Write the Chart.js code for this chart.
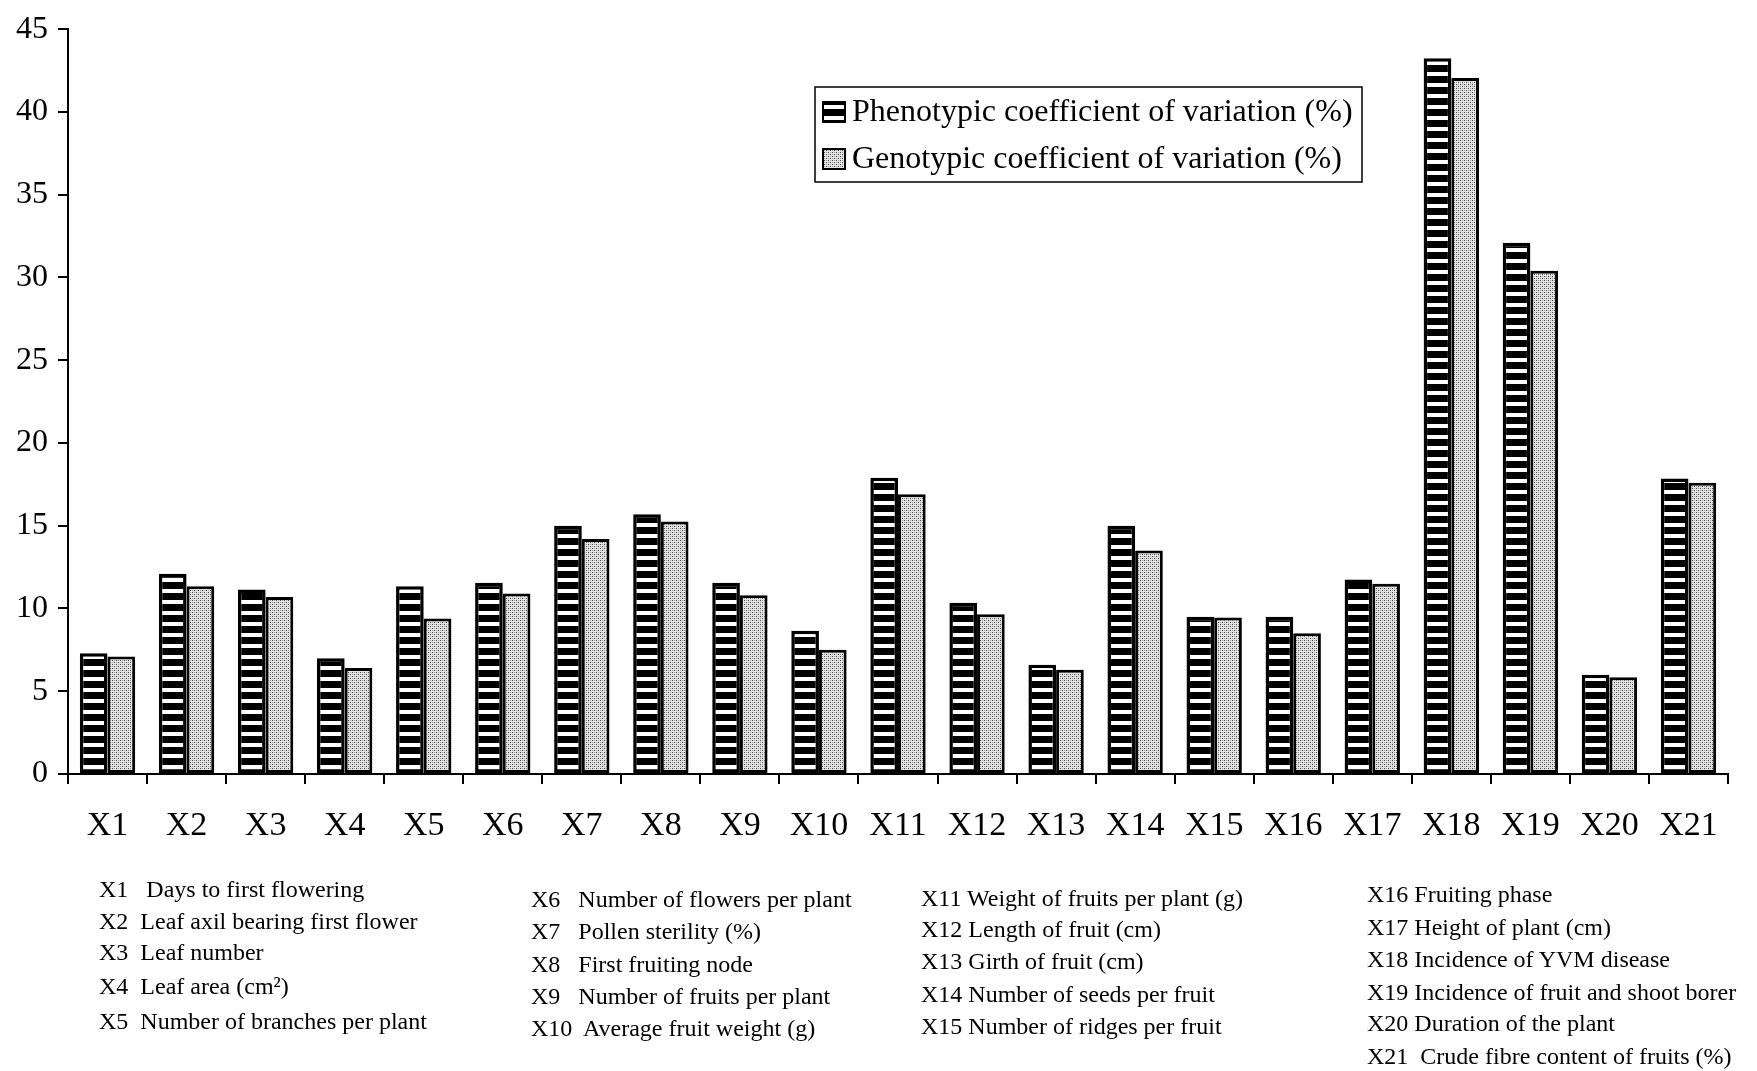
<!DOCTYPE html>
<html>
<head>
<meta charset="utf-8">
<script src="https://cdn.jsdelivr.net/npm/chart.js@4.4.1/dist/chart.umd.min.js"></script>
<style>
  html, body { margin: 0; padding: 0; background: #fff; }
  #wrap { position: relative; width: 1757px; height: 1071px; }
  #chart { position: absolute; left: 0; top: 0; }
  .note { position: absolute; font-family: "Liberation Serif", "DejaVu Serif", serif; font-size: 24px; color: #000; white-space: pre; line-height: 1; }
</style>
</head>
<body>
<div id="wrap">
  <canvas id="chart" width="1757" height="1071"></canvas>
</div>
<script>
// data
const categories = ["X1","X2","X3","X4","X5","X6","X7","X8","X9","X10","X11","X12","X13","X14","X15","X16","X17","X18","X19","X20","X21"];
const phenotypicCV = [7.3, 12.1, 11.15, 7.0, 11.35, 11.55, 15.0, 15.7, 11.55, 8.65, 17.9, 10.35, 6.6, 15.0, 9.5, 9.5, 11.75, 43.25, 32.1, 6.0, 17.85];
const genotypicCV  = [7.1, 11.35, 10.7, 6.4, 9.4, 10.9, 14.2, 15.25, 10.8, 7.5, 16.9, 9.65, 6.3, 13.5, 9.45, 8.5, 11.5, 42.05, 30.4, 5.85, 17.6];
const yTicks = [0, 5, 10, 15, 20, 25, 30, 35, 40, 45];
const seriesLabels = ["Phenotypic coefficient of variation (%)", "Genotypic coefficient of variation (%)"];

const descriptions = [
  ["X1   Days to first flowering", "X2  Leaf axil bearing first flower", "X3  Leaf number", "X4  Leaf area (cm\u00B2)", "X5  Number of branches per plant"],
  ["X6   Number of flowers per plant", "X7   Pollen sterility (%)", "X8   First fruiting node", "X9   Number of fruits per plant", "X10  Average fruit weight (g)"],
  ["X11 Weight of fruits per plant (g)", "X12 Length of fruit (cm)", "X13 Girth of fruit (cm)", "X14 Number of seeds per fruit", "X15 Number of ridges per fruit"],
  ["X16 Fruiting phase", "X17 Height of plant (cm)", "X18 Incidence of YVM disease", "X19 Incidence of fruit and shoot borer", "X20 Duration of the plant", "X21  Crude fibre content of fruits (%)"]
];

// footnote columns
const noteCols = [
  { x: 99,   ys: [877, 909, 940, 974, 1009] },
  { x: 531,  ys: [887, 919, 952, 984, 1016] },
  { x: 921,  ys: [886, 917, 949, 982, 1014] },
  { x: 1367, ys: [882, 915, 947, 980, 1011, 1044] }
];
const wrap = document.getElementById("wrap");
descriptions.forEach((col, ci) => {
  col.forEach((txt, li) => {
    const d = document.createElement("div");
    d.className = "note";
    d.style.left = noteCols[ci].x + "px";
    d.style.top = noteCols[ci].ys[li] + "px";
    d.textContent = txt;
    wrap.appendChild(d);
  });
});

function stripePattern() {
  const c = document.createElement("canvas");
  c.width = 4; c.height = 11;
  const g = c.getContext("2d");
  g.fillStyle = "#000"; g.fillRect(0, 0, 4, 11);
  g.fillStyle = "#fff"; g.fillRect(0, 6, 4, 4);
  return g.createPattern(c, "repeat");
}
function stipplePattern() {
  const c = document.createElement("canvas");
  c.width = 4; c.height = 4;
  const g = c.getContext("2d");
  g.fillStyle = "#e4e4e4"; g.fillRect(0, 0, 4, 4);
  g.fillStyle = "#444";
  g.fillRect(0, 0, 1, 1); g.fillRect(2, 2, 1, 1);
  g.fillStyle = "#999";
  g.fillRect(2, 0, 1, 1); g.fillRect(0, 2, 1, 1);
  return g.createPattern(c, "repeat");
}
const pStripe = stripePattern();
const gStipple = stipplePattern();

const FONT = "'Liberation Serif', 'DejaVu Serif', serif";

const boxLegend = {
  id: "boxLegend",
  afterDraw(chart) {
    const ctx = chart.ctx;
    const x0 = 815, y0 = 87, w = 547, h = 95;
    ctx.save();
    ctx.fillStyle = "#fff";
    ctx.fillRect(x0, y0, w, h);
    ctx.strokeStyle = "#000";
    ctx.lineWidth = 1.5;
    ctx.strokeRect(x0, y0, w, h);
    const fills = [pStripe, gStipple];
    const rows = [112, 159];
    ctx.font = "32px " + FONT;
    ctx.textBaseline = "middle";
    seriesLabels.forEach((lab, i) => {
      const sy = rows[i] - 10;
      ctx.fillStyle = fills[i];
      ctx.fillRect(823, sy, 22, 20);
      ctx.strokeStyle = "#000";
      ctx.lineWidth = 2;
      ctx.strokeRect(823, sy, 22, 20);
      ctx.fillStyle = "#000";
      ctx.fillText(lab, 852, rows[i] + 1);
    });
    ctx.restore();
  }
};

new Chart(document.getElementById("chart"), {
  type: "bar",
  data: {
    labels: categories,
    datasets: [
      { label: seriesLabels[0], data: phenotypicCV, backgroundColor: pStripe, borderColor: "#000", borderWidth: 3.5, borderSkipped: false },
      { label: seriesLabels[1], data: genotypicCV, backgroundColor: gStipple, borderColor: "#000", borderWidth: 3, borderSkipped: false }
    ]
  },
  options: {
    responsive: false,
    animation: false,
    layout: { padding: { left: 0, right: 29, top: 22, bottom: 0 } },
    datasets: { bar: { categoryPercentage: 0.7, barPercentage: 1.0 } },
    plugins: { legend: { display: false }, tooltip: { enabled: false } },
    scales: {
      x: {
        offset: true,
        grid: { display: true, drawOnChartArea: false, offset: true, color: "#000", lineWidth: 2, tickLength: 10 },
        border: { display: true, color: "#000", width: 2 },
        ticks: { color: "#000", font: { family: FONT, size: 34 }, padding: 22, maxRotation: 0, autoSkip: false },
        afterFit(scale) { scale.height = 297; }
      },
      y: {
        min: 0, max: 45,
        afterBuildTicks(scale) { scale.ticks = yTicks.map(v => ({ value: v })); },
        grid: { display: true, drawOnChartArea: false, color: "#000", lineWidth: 2, tickLength: 10 },
        border: { display: true, color: "#000", width: 2 },
        ticks: { color: "#000", font: { family: FONT, size: 32 }, padding: 10 },
        afterFit(scale) { scale.width = 68; }
      }
    }
  },
  plugins: [boxLegend]
});
</script>
</body>
</html>
